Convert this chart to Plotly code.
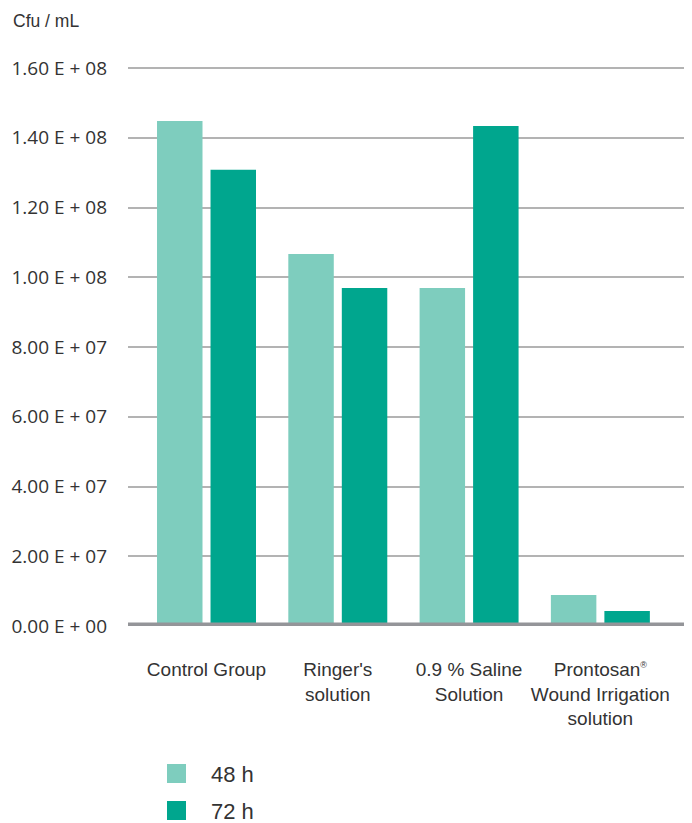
import plotly.graph_objects as go

categories = ["Control Group", "Ringer's<br>solution", "0.9 % Saline<br>Solution",
              "Prontosan<sup><span style='font-size:9px'>®</span></sup><br>Wound Irrigation<br>solution"]
series_names = ["48 h", "72 h"]
values_48h = [1.448e8, 1.067e8, 0.969e8, 0.089e8]
values_72h = [1.308e8, 0.969e8, 1.434e8, 0.043e8]
y_tickvals = [0, 2e7, 4e7, 6e7, 8e7, 1e8, 1.2e8, 1.4e8, 1.6e8]
y_ticktext = ["0.00 E + 00", "2.00 E + 07", "4.00 E + 07", "6.00 E + 07", "8.00 E + 07",
              "1.00 E + 08", "1.20 E + 08", "1.40 E + 08", "1.60 E + 08"]
y_title = "Cfu / mL"

colors = ["#7ecdbe", "#00a68e"]
labfont = "Liberation Sans, Arial, sans-serif"
tickfont = "Open Sans, sans-serif"
txtcol = "#333333"

# page has an 8px body margin; figure coords = reference coords - 8
OFF = 8
W, H = 684, 815
L, R, T, B = 120, 8, 58, 197
pw, ph = W - L - R, H - T - B
ymax = 1.6e8 * ph / 558.0
zero_px = H - B  # figure pixel of y=0


def px_x(x_ref):
    return (x_ref - OFF - L) / pw


def px_y(y_ref):
    return (zero_px - (y_ref - OFF)) / ph


fig = go.Figure()
x_idx = list(range(len(categories)))
for name, vals, col in zip(series_names, [values_48h, values_72h], colors):
    fig.add_trace(go.Bar(x=x_idx, y=vals, name=name, marker=dict(color=col, line=dict(width=0)),
                         showlegend=False))

# baseline
fig.add_shape(type="line", xref="paper", yref="y", x0=0, x1=1, y0=0, y1=0,
              line=dict(color="#949599", width=7), layer="above")

# y title
fig.add_annotation(text=y_title, xref="paper", yref="paper", x=px_x(11), y=px_y(21),
                   xanchor="left", yanchor="middle", showarrow=False,
                   font=dict(family=labfont, size=17.5, color=txtcol))

# custom legend
for i, (name, col) in enumerate(zip(series_names, colors)):
    cy = 773.5 + i * 37
    fig.add_shape(type="rect", xref="paper", yref="paper",
                  x0=px_x(167), x1=px_x(186), y0=px_y(cy + 9.5), y1=px_y(cy - 9.5),
                  fillcolor=col, line=dict(width=0))
    fig.add_annotation(text=name, xref="paper", yref="paper", x=px_x(209),
                       y=px_y(cy + 1), xanchor="left", yanchor="middle", showarrow=False,
                       font=dict(family=labfont, size=22, color=txtcol))

fig.update_layout(
    width=W, height=H,
    margin=dict(l=L, r=R, t=T, b=B, autoexpand=False),
    paper_bgcolor="white", plot_bgcolor="white",
    barmode="group", bargap=0.185, bargroupgap=0.15,
    showlegend=False,
    xaxis=dict(range=[-0.598, 3.637], tickvals=x_idx, ticktext=categories,
               showgrid=False, zeroline=False, showline=False, automargin=False,
               ticks="outside", ticklen=26, tickcolor="rgba(0,0,0,0)",
               tickfont=dict(family=labfont, size=19, color=txtcol)),
    yaxis=dict(range=[0, ymax], tickvals=y_tickvals, ticktext=y_ticktext,
               showgrid=True, gridcolor="#b3b3b3", gridwidth=1.5, zeroline=False,
               showline=False, ticks="", ticklabelstandoff=20, automargin=False,
               tickfont=dict(family=tickfont, size=19, color=txtcol)),
)

fig.write_html("out.html")
